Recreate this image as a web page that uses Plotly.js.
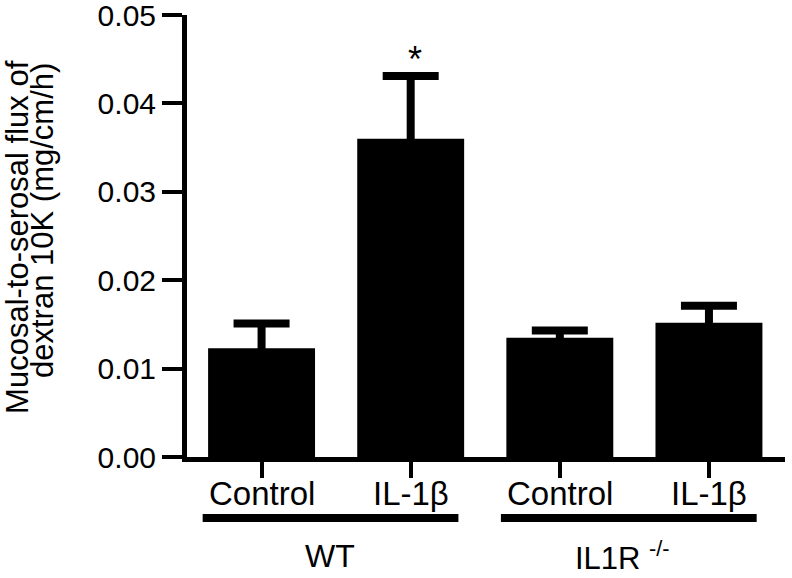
<!DOCTYPE html>
<html>
<head>
<meta charset="utf-8">
<script src="https://cdn.plot.ly/plotly-3.0.1.min.js"></script>
<style>
  html, body { margin: 0; padding: 0; background: #fff; }
  #chart { width: 792px; height: 578px; }
</style>
</head>
<body>
<div id="chart"></div>
<script>
// ---- data ----
const categories = ["WT Control", "WT IL-1β", "IL1R Control", "IL1R IL-1β"];
const tickLabels = ["Control", "IL-1β", "Control", "IL-1β"];
const means = [0.0123, 0.0360, 0.0135, 0.0152];
const sem = [0.0028, 0.0071, 0.0008, 0.0019];
const groups = ["WT", "IL1R <sup>-/-</sup>"];
const groupMembers = [[0, 1], [2, 3]];
const significant = [false, true, false, false];
const yTitleLines = ["Mucosal-to-serosal flux of", "dextran 10K (mg/cm/h)"];
const yTicks = [0, 0.01, 0.02, 0.03, 0.04, 0.05];

const FONT = "Liberation Sans, Arial, Helvetica, sans-serif";
const xIdx = categories.map((_, i) => i);

const trace = {
  type: "bar",
  x: xIdx,
  y: means,
  marker: { color: "#000", line: { width: 0 } },
  error_y: {
    type: "data",
    symmetric: true,
    array: sem,
    color: "#000",
    thickness: 8,
    width: 28
  },
  hoverinfo: "skip"
};

const shapes = [];
const annotations = [];

// category labels under the ticks
tickLabels.forEach((t, i) => {
  annotations.push({
    xref: "x", yref: "paper", x: i, y: -0.036,
    text: t, showarrow: false, xanchor: "center", yanchor: "top",
    font: { family: FONT, size: 33, color: "#000" }
  });
});

// group underline bars and labels
groupMembers.forEach((m) => {
  const lo = Math.min(...m), hi = Math.max(...m);
  shapes.push({
    type: "line", xref: "x", yref: "paper",
    x0: lo - 0.395, x1: hi + 0.32, y0: -0.138, y1: -0.138,
    line: { color: "#000", width: 8 }
  });
});
annotations.push({
  xref: "x", yref: "paper", x: 0.46, y: -0.224,
  text: groups[0], showarrow: false, xanchor: "center", yanchor: "middle",
  font: { family: FONT, size: 32, color: "#000" }
});
annotations.push({
  xref: "x", yref: "paper", x: 2.42, y: -0.223, borderpad: 0,
  text: groups[1], showarrow: false, xanchor: "center", yanchor: "middle",
  font: { family: FONT, size: 31, color: "#000" }
});

// significance stars
significant.forEach((s, i) => {
  if (!s) return;
  annotations.push({
    xref: "x", yref: "y", x: i, y: means[i] + sem[i],
    text: "*", showarrow: false, xanchor: "center", yanchor: "bottom",
    yshift: -6, xshift: 4,
    font: { family: FONT, size: 36, color: "#000" }
  });
});

// y title as two tight lines
annotations.push({
  xref: "paper", yref: "paper", x: 0, y: 0.498, xshift: -169,
  text: yTitleLines[0], textangle: -90, showarrow: false,
  xanchor: "center", yanchor: "middle",
  font: { family: FONT, size: 31, color: "#000" }
});
annotations.push({
  xref: "paper", yref: "paper", x: 0, y: 0.534, xshift: -144,
  text: yTitleLines[1], textangle: -90, showarrow: false,
  xanchor: "center", yanchor: "middle",
  font: { family: FONT, size: 31, color: "#000" }
});

const layout = {
  width: 792, height: 578,
  margin: { l: 187, r: 7, t: 15, b: 121, pad: 0 },
  paper_bgcolor: "#fff", plot_bgcolor: "#fff",
  showlegend: false,
  bargap: 0.283,
  xaxis: {
    range: [-0.5, 3.51],
    tickmode: "array", tickvals: xIdx,
    showticklabels: false,
    showline: true, linecolor: "#000", linewidth: 5,
    ticks: "outside", ticklen: 16, tickwidth: 4, tickcolor: "#000",
    showgrid: false, zeroline: false,
    fixedrange: true
  },
  yaxis: {
    range: [0, 0.05001],
    tickmode: "array", tickvals: yTicks,
    tickformat: ".2f",
    ticklabeloverflow: "allow",
    showline: true, linecolor: "#000", linewidth: 5,
    ticks: "outside", ticklen: 20, tickwidth: 4, tickcolor: "#000",
    showgrid: false, zeroline: false,
    tickfont: { family: FONT, size: 30, color: "#000" },
    fixedrange: true
  },
  shapes: shapes,
  annotations: annotations
};

Plotly.newPlot("chart", [trace], layout, { displayModeBar: false, staticPlot: true });
</script>
</body>
</html>
